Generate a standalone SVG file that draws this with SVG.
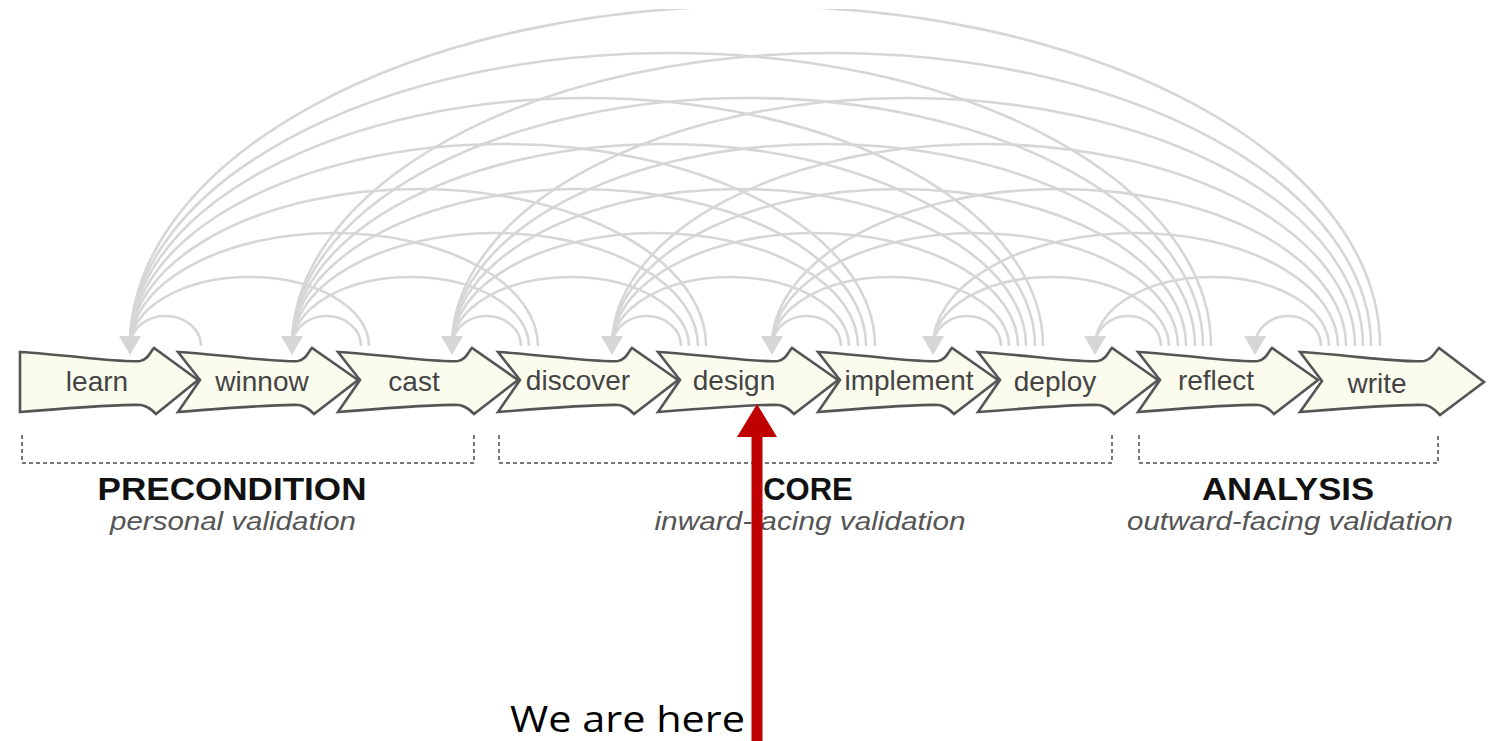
<svg xmlns="http://www.w3.org/2000/svg" width="1499" height="741" viewBox="0 0 1499 741">
<style>
.arc{fill:none;stroke:#d6d6d6;stroke-width:2.6}
.ah{fill:#d6d6d6}
.node{fill:#fcfcee;stroke:#555;stroke-width:2.6;stroke-linejoin:miter}
.lbl{font-family:"Liberation Sans",Arial,sans-serif;font-size:28px;fill:#444;text-anchor:middle}
.br{fill:none;stroke:#777;stroke-width:2;stroke-dasharray:4,3}
.hd{font-family:"Liberation Sans",Arial,sans-serif;font-size:31px;font-weight:bold;fill:#111;text-anchor:middle}
.sub{font-family:"Liberation Sans",Arial,sans-serif;font-size:25px;font-style:italic;fill:#555;text-anchor:middle}
</style>
<defs>
<clipPath id="clipTop"><rect x="0" y="9" width="1499" height="732"/></clipPath>
<path id="chevN" d="M0,352 C50,355 100,363 120,361 C128,360 130,352 134,348 L180,380 L136,414 C132,410 128,406 121,405 C100,404 50,408 0,412 L22,380 Z"/>
</defs>
<rect x="0" y="0" width="1499" height="741" fill="#fff"/>

<g id="nodes">
<g id="node-learn"><path class="node" d="M20,352 C70,355 120,363 140,361 C148,360 150,352 154,348 L198,380 L156,414 C152,410 148,406 141,405 C120,404 70,408 20,412 Z"/><text class="lbl" x="97" y="391">learn</text></g>
<g id="node-winnow"><use href="#chevN" class="node" x="178"/><text class="lbl" x="262" y="391">winnow</text></g>
<g id="node-cast"><use href="#chevN" class="node" x="338"/><text class="lbl" x="414" y="391">cast</text></g>
<g id="node-discover"><use href="#chevN" class="node" x="498"/><text class="lbl" x="578" y="390">discover</text></g>
<g id="node-design"><use href="#chevN" class="node" x="658"/><text class="lbl" x="734" y="390">design</text></g>
<g id="node-implement"><use href="#chevN" class="node" x="818"/><text class="lbl" x="909" y="390">implement</text></g>
<g id="node-deploy"><use href="#chevN" class="node" x="978"/><text class="lbl" x="1055" y="391">deploy</text></g>
<g id="node-reflect"><use href="#chevN" class="node" x="1138"/><text class="lbl" x="1216" y="390">reflect</text></g>
<g id="node-write"><path class="node" d="M1300,352 C1350,355 1400,363 1424,361 C1432,360 1435,352 1439,348 L1484,382 L1440,415 C1436,411 1432,406 1425,405 C1400,404 1350,408 1300,412 L1322,381 Z"/><text class="lbl" x="1377" y="393">write</text></g>
</g>

<g id="connectors" clip-path="url(#clipTop)">
<path class="arc" d="M201,346 A35.5,30 0 0 0 130,346"/>
<path class="arc" d="M361,346 A34.5,30 0 0 0 292,346"/>
<path class="arc" d="M369,346 A119.5,69 0 0 0 130,346"/>
<path class="arc" d="M521,346 A34.5,30 0 0 0 452,346"/>
<path class="arc" d="M529,346 A118.5,69 0 0 0 292,346"/>
<path class="arc" d="M538,346 A204,113 0 0 0 130,346"/>
<path class="arc" d="M681,346 A34.5,30 0 0 0 612,346"/>
<path class="arc" d="M689,346 A118.5,69 0 0 0 452,346"/>
<path class="arc" d="M698,346 A203,113 0 0 0 292,346"/>
<path class="arc" d="M706,346 A288,157 0 0 0 130,346"/>
<path class="arc" d="M841,346 A34.5,30 0 0 0 772,346"/>
<path class="arc" d="M849,346 A118.5,69 0 0 0 612,346"/>
<path class="arc" d="M858,346 A203,113 0 0 0 452,346"/>
<path class="arc" d="M866,346 A287,157 0 0 0 292,346"/>
<path class="arc" d="M875,346 A372.5,202 0 0 0 130,346"/>
<path class="arc" d="M1001,346 A34,30 0 0 0 933,346"/>
<path class="arc" d="M1009,346 A118.5,69 0 0 0 772,346"/>
<path class="arc" d="M1018,346 A203,113 0 0 0 612,346"/>
<path class="arc" d="M1026,346 A287,157 0 0 0 452,346"/>
<path class="arc" d="M1035,346 A371.5,202 0 0 0 292,346"/>
<path class="arc" d="M1043,346 A456.5,248 0 0 0 130,346"/>
<path class="arc" d="M1161,346 A33,30 0 0 0 1095,346"/>
<path class="arc" d="M1169,346 A118,69 0 0 0 933,346"/>
<path class="arc" d="M1178,346 A203,113 0 0 0 772,346"/>
<path class="arc" d="M1186,346 A287,157 0 0 0 612,346"/>
<path class="arc" d="M1195,346 A371.5,202 0 0 0 452,346"/>
<path class="arc" d="M1203,346 A455.5,248 0 0 0 292,346"/>
<path class="arc" d="M1211,346 A540.5,293 0 0 0 130,346"/>
<path class="arc" d="M1321,346 A33,30 0 0 0 1255,346"/>
<path class="arc" d="M1329,346 A117,69 0 0 0 1095,346"/>
<path class="arc" d="M1338,346 A202.5,113 0 0 0 933,346"/>
<path class="arc" d="M1346,346 A287,157 0 0 0 772,346"/>
<path class="arc" d="M1355,346 A371.5,202 0 0 0 612,346"/>
<path class="arc" d="M1363,346 A455.5,248 0 0 0 452,346"/>
<path class="arc" d="M1371,346 A539.5,293 0 0 0 292,346"/>
<path class="arc" d="M1380,346 A625,340 0 0 0 130,346"/>
<polygon class="ah" points="119,336 141,336 130,355"/>
<polygon class="ah" points="281,336 303,336 292,355"/>
<polygon class="ah" points="441,336 463,336 452,355"/>
<polygon class="ah" points="601,336 623,336 612,355"/>
<polygon class="ah" points="761,336 783,336 772,355"/>
<polygon class="ah" points="922,336 944,336 933,355"/>
<polygon class="ah" points="1084,336 1106,336 1095,355"/>
<polygon class="ah" points="1244,336 1266,336 1255,355"/>
</g>

<g id="groups">
<path class="br" d="M22,435 V463 H474 V435"/>
<path class="br" d="M499,435 V463 H1112 V435"/>
<path class="br" d="M1139,435 V463 H1438 V435"/>
<text class="hd" x="232" y="500" textLength="269" lengthAdjust="spacingAndGlyphs">PRECONDITION</text>
<text class="sub" x="233" y="530" textLength="246" lengthAdjust="spacingAndGlyphs">personal validation</text>
<text class="hd" x="808" y="500">CORE</text>
<text class="sub" x="810" y="530" textLength="311" lengthAdjust="spacingAndGlyphs">inward-facing validation</text>
<text class="hd" x="1288" y="500" textLength="172" lengthAdjust="spacingAndGlyphs">ANALYSIS</text>
<text class="sub" x="1290" y="530" textLength="326" lengthAdjust="spacingAndGlyphs">outward-facing validation</text>
</g>

<g id="marker-here">
<line x1="757" y1="430" x2="757" y2="741" stroke="#c00000" stroke-width="11"/>
<polygon points="757,404 737,437 777,437" fill="#c00000"/>
<text x="510" y="732" font-family="'Open Sans','Noto Sans',sans-serif" font-size="36" fill="#000" textLength="235" lengthAdjust="spacingAndGlyphs">We are here</text>
</g>
</svg>
